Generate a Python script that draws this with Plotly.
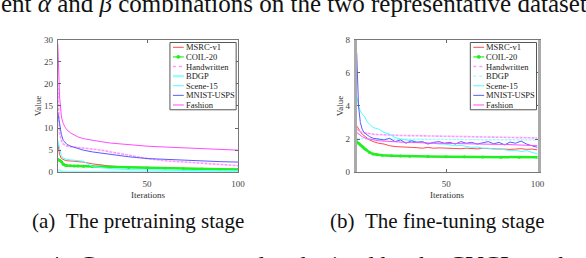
import plotly.graph_objects as go

# ---------------- data ----------------
series_names = ["MSRC-v1", "COIL-20", "Handwritten", "BDGP", "Scene-15", "MNIST-USPS", "Fashion"]

# (a) pretraining stage
it_pre = [1, 2, 3, 4, 5, 6, 8, 10, 12, 15, 20, 25, 30, 40, 50, 60, 70, 80, 90, 100]
pre_msrc = [6.5, 4.0, 3.1, 2.8, 2.7, 2.6, 2.6, 2.5, 2.4, 2.3, 1.9, 1.6, 1.4, 1.2, 1.05, 0.95, 0.85, 0.8, 0.75, 0.7]
pre_coil = [2.9, 2.7, 2.4, 1.8, 1.6, 1.5, 1.45, 1.4, 1.4, 1.35, 1.3, 1.25, 1.2, 1.1, 1.0, 0.9, 0.8, 0.75, 0.7, 0.65]
pre_hand = [20, 9, 7, 6.4, 6.1, 5.9, 5.8, 5.7, 5.6, 5.5, 5.3, 5.0, 4.6, 3.8, 3.1, 2.6, 2.3, 2.0, 1.8, 1.5]
pre_bdgp = [0.45, 0.3, 0.2, 0.15, 0.12, 0.1, 0.1, 0.08, 0.08, 0.07, 0.07, 0.06, 0.06, 0.05, 0.05, 0.05, 0.05, 0.05, 0.05, 0.05]
pre_scene = [7.2, 5.0, 3.7, 3.2, 3.0, 2.9, 2.8, 2.7, 2.6, 2.5, 1.3, 1.0, 0.8, 0.6, 0.5, 0.45, 0.4, 0.35, 0.3, 0.3]
pre_mnist = [13.5, 11, 8.5, 7.2, 6.7, 6.3, 5.9, 5.6, 5.3, 5.0, 4.6, 4.3, 4.0, 3.5, 3.1, 2.9, 2.7, 2.5, 2.4, 2.3]
pre_fashion = [29, 17, 12.5, 11, 10.2, 9.6, 8.9, 8.4, 8.0, 7.6, 7.2, 6.9, 6.6, 6.2, 5.9, 5.7, 5.5, 5.3, 5.2, 5.0]

# (b) fine-tuning stage
it_ft = [1, 2, 3, 4, 5, 6, 8, 10, 12, 15, 20, 25, 30, 40, 50, 60, 70, 80, 90, 100]
ft_hand = [2.6, 2.5, 2.45, 2.4, 2.38, 2.35, 2.32, 2.3, 2.28, 2.26, 2.24, 2.22, 2.21, 2.19, 2.17, 2.15, 2.13, 2.11, 2.09, 2.07]
ft_bdgp = [2.05, 2.03, 2.02, 2.02, 2.01, 2.01, 2.0, 2.0, 2.0, 2.0, 2.0, 1.99, 1.99, 1.98, 1.98, 1.97, 1.97, 1.96, 1.96, 1.95]
ft_coil = [1.85, 1.75, 1.65, 1.55, 1.45, 1.35, 1.2, 1.1, 1.05, 1.02, 1.0, 0.98, 0.97, 0.95, 0.94, 0.93, 0.92, 0.91, 0.9, 0.9]

it_ft_n = [1, 2, 3, 4, 5, 6, 7, 8, 10, 13, 16, 19, 22, 25, 28, 31, 34, 37, 40, 43, 46, 49, 52, 55,
           58, 61, 64, 67, 70, 73, 76, 79, 82, 85, 88, 91, 94, 97, 100]
ft_mnist = [7.2, 4.0, 3.0, 2.6, 2.4, 2.3, 2.2, 2.15, 2.05, 2.0, 1.95, 2.05, 1.85, 1.95, 1.75, 1.9, 1.8, 1.85,
            1.7, 1.8, 1.85, 1.75, 1.8, 1.7, 1.85, 1.75, 1.8, 1.7, 1.78, 1.85, 1.72, 1.8, 1.65, 1.82, 1.75,
            1.88, 1.7, 1.6, 1.5]
ft_scene = [4.6, 4.0, 3.7, 3.5, 3.4, 3.2, 3.0, 2.9, 2.7, 2.6, 2.4, 2.3, 2.1, 2.0, 1.95, 1.9, 1.85, 1.8,
            1.75, 1.75, 1.7, 1.7, 1.65, 1.6, 1.62, 1.55, 1.5, 1.52, 1.45, 1.45, 1.4, 1.42, 1.35, 1.3, 1.32,
            1.25, 1.3, 1.2, 1.1]
ft_fashion = [2.4, 2.3, 2.2, 2.15, 2.1, 2.05, 2.0, 2.0, 1.95, 1.9, 1.88, 1.85, 1.85, 1.82, 1.8, 1.8, 1.78,
              1.78, 1.76, 1.75, 1.75, 1.74, 1.73, 1.73, 1.72, 1.72, 1.71, 1.7, 1.7, 1.7, 1.69, 1.68, 1.68,
              1.67, 1.66, 1.65, 1.64, 1.62, 1.6]
ft_msrc = [2.8, 2.6, 2.45, 2.3, 2.2, 2.1, 2.0, 1.95, 1.85, 1.75, 1.7, 1.6, 1.55, 1.52, 1.5, 1.5, 1.48, 1.45,
           1.5, 1.45, 1.47, 1.45, 1.44, 1.43, 1.42, 1.45, 1.42, 1.41, 1.44, 1.42, 1.4, 1.42, 1.4, 1.38, 1.4,
           1.42, 1.38, 1.4, 1.35]

x_ticks = [50, 100]
y_ticks_pre = [0, 5, 10, 15, 20, 25, 30]
y_ticks_ft = [0, 2, 4, 6, 8]

NB = "\u00a0"
captions = ["(a)" + NB + NB + "The pretraining stage", "(b)" + NB + NB + "The fine-tuning stage"]
top_text = "ent <i>α</i> and <i>β</i> combinations on the two representative datasets"
bottom_text = "4." + NB + NB + "Convergence results obtained by the CVCL method"

# ---------------- styles ----------------
W, H = 586, 258
SERIF = "Liberation Serif, Times New Roman, serif"
RED = "#ff4a4a"
GREEN = "#22ee22"
MAG = "#ff4cff"
MAG_L = "#ff99ff"
CYAN = "#4cffff"
CYAN_L = "#9ffcfc"
BLUE = "#5a5aff"

fig = go.Figure()

# style per series: (color, width, dash, marker)
style_pre = [(RED, 1, "solid", False), (GREEN, 2.5, "solid", True), (MAG_L, 1.6, "3px,1px", False),
             (CYAN_L, 2.5, "solid", False), (CYAN, 1, "solid", False), (BLUE, 1, "solid", False),
             (MAG, 1, "solid", False)]
style_ft = [(RED, 1, "solid", False), (GREEN, 2.5, "solid", True), (MAG_L, 1.6, "3px,1px", False),
            (CYAN_L, 1.4, "3px,1px", False), (CYAN, 1, "solid", False), (BLUE, 1, "solid", False),
            (MAG, 1, "solid", False)]

data_pre = [(it_pre, pre_msrc), (it_pre, pre_coil), (it_pre, pre_hand), (it_pre, pre_bdgp),
            (it_pre, pre_scene), (it_pre, pre_mnist), (it_pre, pre_fashion)]
data_ft = [(it_ft_n, ft_msrc), (it_ft, ft_coil), (it_ft, ft_hand), (it_ft, ft_bdgp),
           (it_ft_n, ft_scene), (it_ft_n, ft_mnist), (it_ft_n, ft_fashion)]

for (data, styles, xa, ya) in [(data_pre, style_pre, "x", "y"), (data_ft, style_ft, "x2", "y2")]:
    for name, (x, y), (color, width, dash, marker) in zip(series_names, data, styles):
        fig.add_trace(go.Scatter(
            x=x, y=y, name=name, mode="lines+markers" if marker else "lines",
            line=dict(color=color, width=width, dash=dash),
            marker=dict(size=3, color=color, symbol="circle"),
            xaxis=xa, yaxis=ya, showlegend=False))


def px_x(p):
    return p / W


def px_y(p):
    return 1 - p / H


# ---------- manual legends (MATLAB style, compact) ----------
def add_legend(x0, y0, x1, y1, styles):
    fig.add_shape(type="rect", xref="paper", yref="paper", x0=px_x(x0), x1=px_x(x1),
                  y0=px_y(y1), y1=px_y(y0), line=dict(color="#555", width=1), fillcolor="white",
                  layer="above")
    row_h = (y1 - y0) / len(series_names)
    for i, (name, (color, width, dash, marker)) in enumerate(zip(series_names, styles)):
        yc = y0 + row_h * (i + 0.5)
        lw = min(width, 2.5)
        fig.add_shape(type="line", xref="paper", yref="paper", x0=px_x(x0 + 3), x1=px_x(x0 + 14),
                      y0=px_y(yc), y1=px_y(yc),
                      line=dict(color=color, width=lw if not marker else 1.2,
                                dash="dot" if dash != "solid" else "solid"),
                      layer="above")
        if marker:
            fig.add_shape(type="circle", xref="paper", yref="paper",
                          x0=px_x(x0 + 7), x1=px_x(x0 + 10), y0=px_y(yc + 1.5), y1=px_y(yc - 1.5),
                          line=dict(color=color, width=1), fillcolor=color, layer="above")
        fig.add_annotation(text=name, xref="paper", yref="paper", x=px_x(x0 + 14), y=px_y(yc),
                           xanchor="left", yanchor="middle", showarrow=False,
                           font=dict(family=SERIF, size=8.5, color="#222"))


add_legend(172, 39, 239, 109, style_pre)
add_legend(476, 39, 543, 109, style_ft)

tick_font = dict(family=SERIF, size=9, color="#444")
title_font = dict(family=SERIF, size=9, color="#333")

common_x = dict(range=[1, 100], tickvals=x_ticks, ticks="inside", ticklen=3, tickcolor="#666",
                showline=True, linecolor="#777", linewidth=1, mirror="ticks", showgrid=False,
                zeroline=False, tickfont=tick_font, ticklabelstandoff=3,
                title=dict(text="Iterations", font=title_font, standoff=3))
common_y = dict(ticks="inside", ticklen=3, tickcolor="#666", showline=True, linecolor="#777",
                linewidth=1, mirror="ticks", showgrid=False, zeroline=False, tickfont=tick_font,
                ticklabelstandoff=2,
                title=dict(text="Value", font=title_font, standoff=0))

ytop, ybot = 36, 174
fig.update_layout(
    width=W, height=H, margin=dict(l=0, r=0, t=0, b=0),
    paper_bgcolor="white", plot_bgcolor="white", showlegend=False,
    xaxis=dict(domain=[px_x(58.5), px_x(241)], anchor="y", **common_x),
    yaxis=dict(domain=[px_y(ybot), px_y(ytop)], anchor="x", range=[0, 30], tickvals=y_ticks_pre, **common_y),
    xaxis2=dict(domain=[px_x(361), px_x(544)], anchor="y2", **common_x),
    yaxis2=dict(domain=[px_y(ybot), px_y(ytop)], anchor="x2", range=[0, 8], tickvals=y_ticks_ft, **common_y),
)
fig.update_layout(yaxis2=dict(linecolor="#aaa", linewidth=3))

for cap, cx in zip(captions, [30, 332]):
    fig.add_annotation(text=cap, xref="paper", yref="paper", x=px_x(cx), y=px_y(224.5),
                       xanchor="left", yanchor="middle", showarrow=False,
                       font=dict(family=SERIF, size=21, color="#111"))
fig.add_annotation(text=top_text, xref="paper", yref="paper", x=px_x(-1), y=px_y(15),
                   xanchor="left", yanchor="bottom", showarrow=False,
                   font=dict(family=SERIF, size=25, color="#111"))
fig.add_annotation(text=bottom_text, xref="paper", yref="paper", x=px_x(47), y=px_y(255),
                   xanchor="left", yanchor="top", showarrow=False,
                   font=dict(family=SERIF, size=25, color="#111"))

fig.write_html("out.html", config={"displayModeBar": False},
               post_script="document.body.style.margin='0';"
                           "document.documentElement.style.overflow='hidden';")
